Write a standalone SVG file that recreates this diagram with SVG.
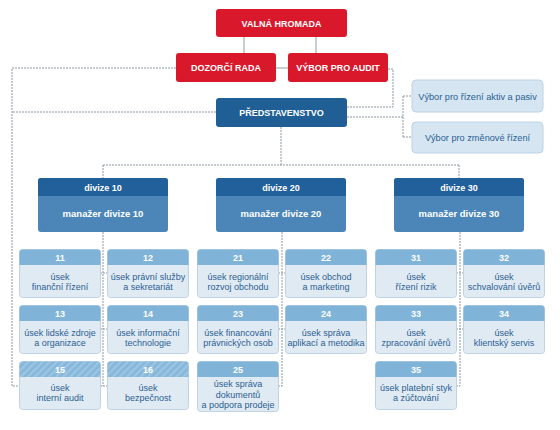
<svg xmlns="http://www.w3.org/2000/svg" width="560" height="430" viewBox="0 0 560 430">
<defs>
<pattern id="hatch" patternUnits="userSpaceOnUse" width="5" height="5" patternTransform="rotate(45)">
<rect width="5" height="5" fill="#86b7db"/>
<rect width="2.2" height="5" fill="#9cc5e2"/>
</pattern>
</defs>
<style>
.red{fill:#d9182b}
.blue{fill:#1f5f96}
.dh{fill:#21609a}
.db{fill:#4c86b8}
.sh{fill:#80b3d8}
.sb{fill:#e0eaf3;stroke:#c0d3e3;stroke-width:1}
.lb{fill:#d5e6f2;stroke:#bcd2e4;stroke-width:1}
.tw{font-family:"Liberation Sans",Arial,sans-serif;font-weight:bold;fill:#fff;text-anchor:middle}
.t{font-family:"Liberation Sans",Arial,sans-serif;fill:#2b5e92;text-anchor:middle;font-size:9px}
.tl{font-family:"Liberation Sans",Arial,sans-serif;fill:#2b5e92;text-anchor:middle;font-size:9.2px}
.c{fill:none;stroke:#8f9ba6;stroke-width:1}
.d{fill:none;stroke:#8a97a3;stroke-width:1;stroke-dasharray:2 1}
</style>
<rect width="560" height="430" fill="#fff"/>
<g id="connectors">
<path class="c" d="M244 37V53M316 37V53M276 68H288"/>
<path class="d" d="M176 68H12V386H19M216 112H12"/>
<path class="d" d="M388 69H393V107H347M347 117H403M403 96V137M403 96H412M403 137H412"/>
<path class="d" d="M281 127V165M103 165H459M103 165V178M459 165V178"/>
<path class="d" d="M103 232V386M100 273H107M100 329H107M100 386H107"/>
<path class="d" d="M282 232V386M278 273H285M278 329H285M278 386H282"/>
<path class="d" d="M460 232V386M456 273H463M456 329H463M456 386H460"/>
</g>
<g id="valna"><rect class="red" x="216" y="9" width="131" height="28" rx="3"/><text class="tw" x="281.5" y="26.5" font-size="9">VALNÁ HROMADA</text></g>
<g id="dozorci"><rect class="red" x="176" y="53" width="100" height="29" rx="3"/><text class="tw" x="226" y="71" font-size="9">DOZORČÍ RADA</text></g>
<g id="audit"><rect class="red" x="288" y="53" width="100" height="29" rx="3"/><text class="tw" x="338" y="71" font-size="9">VÝBOR PRO AUDIT</text></g>
<g id="predstavenstvo"><rect class="blue" x="216" y="98" width="131" height="29" rx="3"/><text class="tw" x="281.5" y="115.5" font-size="9">PŘEDSTAVENSTVO</text></g>
<g id="aktiv"><rect class="lb" x="412" y="80" width="131" height="32" rx="4"/><text class="tl" x="477.5" y="99.5">Výbor pro řízení aktiv a pasiv</text></g>
<g id="zmenove"><rect class="lb" x="412" y="122" width="131" height="31" rx="4"/><text class="tl" x="477.5" y="141">Výbor pro změnové řízení</text></g>
<g id="div10"><rect class="db" x="38" y="178" width="130" height="54" rx="3"/><path class="dh" d="M38 196V181a3 3 0 0 1 3-3H165a3 3 0 0 1 3 3V196Z"/><text class="tw" x="103" y="190.5" font-size="9">divize 10</text><text class="tw" x="103" y="217" font-size="9.5">manažer divize 10</text></g>
<g id="div20"><rect class="db" x="216" y="178" width="130" height="54" rx="3"/><path class="dh" d="M216 196V181a3 3 0 0 1 3-3H343a3 3 0 0 1 3 3V196Z"/><text class="tw" x="281" y="190.5" font-size="9">divize 20</text><text class="tw" x="281" y="217" font-size="9.5">manažer divize 20</text></g>
<g id="div30"><rect class="db" x="394" y="178" width="130" height="54" rx="3"/><path class="dh" d="M394 196V181a3 3 0 0 1 3-3H521a3 3 0 0 1 3 3V196Z"/><text class="tw" x="459" y="190.5" font-size="9">divize 30</text><text class="tw" x="459" y="217" font-size="9.5">manažer divize 30</text></g>
<g id="u11"><rect class="sb" x="19.5" y="249.5" width="81" height="48" rx="3"/><path class="sh" d="M19.5 265V252.5a3 3 0 0 1 3-3H97.5a3 3 0 0 1 3 3V265Z"/><text class="tw" x="60" y="260.5" font-size="9">11</text><text class="t" x="60" y="279.5">úsek</text><text class="t" x="60" y="289.5">finanční řízení</text></g>
<g id="u12"><rect class="sb" x="107.5" y="249.5" width="81" height="48" rx="3"/><path class="sh" d="M107.5 265V252.5a3 3 0 0 1 3-3H185.5a3 3 0 0 1 3 3V265Z"/><text class="tw" x="148" y="260.5" font-size="9">12</text><text class="t" x="148" y="279.5">úsek právní služby</text><text class="t" x="148" y="289.5">a sekretariát</text></g>
<g id="u13"><rect class="sb" x="19.5" y="305.5" width="81" height="48" rx="3"/><path class="sh" d="M19.5 321V308.5a3 3 0 0 1 3-3H97.5a3 3 0 0 1 3 3V321Z"/><text class="tw" x="60" y="316.5" font-size="9">13</text><text class="t" x="60" y="335.5">úsek lidské zdroje</text><text class="t" x="60" y="345.5">a organizace</text></g>
<g id="u14"><rect class="sb" x="107.5" y="305.5" width="81" height="48" rx="3"/><path class="sh" d="M107.5 321V308.5a3 3 0 0 1 3-3H185.5a3 3 0 0 1 3 3V321Z"/><text class="tw" x="148" y="316.5" font-size="9">14</text><text class="t" x="148" y="335.5">úsek informační</text><text class="t" x="148" y="345.5">technologie</text></g>
<g id="u15"><rect class="sb" x="19.5" y="361.5" width="81" height="48" rx="3"/><path fill="url(#hatch)" d="M19.5 377V364.5a3 3 0 0 1 3-3H97.5a3 3 0 0 1 3 3V377Z"/><text class="tw" x="60" y="372.5" font-size="9">15</text><text class="t" x="60" y="390.5">úsek</text><text class="t" x="60" y="400.5">interní audit</text></g>
<g id="u16"><rect class="sb" x="107.5" y="361.5" width="81" height="48" rx="3"/><path fill="url(#hatch)" d="M107.5 377V364.5a3 3 0 0 1 3-3H185.5a3 3 0 0 1 3 3V377Z"/><text class="tw" x="148" y="372.5" font-size="9">16</text><text class="t" x="148" y="390.5">úsek</text><text class="t" x="148" y="400.5">bezpečnost</text></g>
<g id="u21"><rect class="sb" x="197.5" y="249.5" width="81" height="48" rx="3"/><path class="sh" d="M197.5 265V252.5a3 3 0 0 1 3-3H275.5a3 3 0 0 1 3 3V265Z"/><text class="tw" x="238" y="260.5" font-size="9">21</text><text class="t" x="238" y="279.5">úsek regionální</text><text class="t" x="238" y="289.5">rozvoj obchodu</text></g>
<g id="u22"><rect class="sb" x="285.5" y="249.5" width="81" height="48" rx="3"/><path class="sh" d="M285.5 265V252.5a3 3 0 0 1 3-3H363.5a3 3 0 0 1 3 3V265Z"/><text class="tw" x="326" y="260.5" font-size="9">22</text><text class="t" x="326" y="279.5">úsek obchod</text><text class="t" x="326" y="289.5">a marketing</text></g>
<g id="u23"><rect class="sb" x="197.5" y="305.5" width="81" height="48" rx="3"/><path class="sh" d="M197.5 321V308.5a3 3 0 0 1 3-3H275.5a3 3 0 0 1 3 3V321Z"/><text class="tw" x="238" y="316.5" font-size="9">23</text><text class="t" x="238" y="335.5">úsek financování</text><text class="t" x="238" y="345.5">právnických osob</text></g>
<g id="u24"><rect class="sb" x="285.5" y="305.5" width="81" height="48" rx="3"/><path class="sh" d="M285.5 321V308.5a3 3 0 0 1 3-3H363.5a3 3 0 0 1 3 3V321Z"/><text class="tw" x="326" y="316.5" font-size="9">24</text><text class="t" x="326" y="335.5">úsek správa</text><text class="t" x="326" y="345.5">aplikací a metodika</text></g>
<g id="u25"><rect class="sb" x="197.5" y="361.5" width="81" height="50" rx="3"/><path class="sh" d="M197.5 377V364.5a3 3 0 0 1 3-3H275.5a3 3 0 0 1 3 3V377Z"/><text class="tw" x="238" y="372.5" font-size="9">25</text><text class="t" x="238" y="387">úsek správa</text><text class="t" x="238" y="397.5">dokumentů</text><text class="t" x="238" y="408">a podpora prodeje</text></g>
<g id="u31"><rect class="sb" x="375.5" y="249.5" width="81" height="48" rx="3"/><path class="sh" d="M375.5 265V252.5a3 3 0 0 1 3-3H453.5a3 3 0 0 1 3 3V265Z"/><text class="tw" x="416" y="260.5" font-size="9">31</text><text class="t" x="416" y="279.5">úsek</text><text class="t" x="416" y="289.5">řízení rizik</text></g>
<g id="u32"><rect class="sb" x="463.5" y="249.5" width="81" height="48" rx="3"/><path class="sh" d="M463.5 265V252.5a3 3 0 0 1 3-3H541.5a3 3 0 0 1 3 3V265Z"/><text class="tw" x="504" y="260.5" font-size="9">32</text><text class="t" x="504" y="279.5">úsek</text><text class="t" x="504" y="289.5">schvalování úvěrů</text></g>
<g id="u33"><rect class="sb" x="375.5" y="305.5" width="81" height="48" rx="3"/><path class="sh" d="M375.5 321V308.5a3 3 0 0 1 3-3H453.5a3 3 0 0 1 3 3V321Z"/><text class="tw" x="416" y="316.5" font-size="9">33</text><text class="t" x="416" y="335.5">úsek</text><text class="t" x="416" y="345.5">zpracování úvěrů</text></g>
<g id="u34"><rect class="sb" x="463.5" y="305.5" width="81" height="48" rx="3"/><path class="sh" d="M463.5 321V308.5a3 3 0 0 1 3-3H541.5a3 3 0 0 1 3 3V321Z"/><text class="tw" x="504" y="316.5" font-size="9">34</text><text class="t" x="504" y="335.5">úsek</text><text class="t" x="504" y="345.5">klientský servis</text></g>
<g id="u35"><rect class="sb" x="375.5" y="361.5" width="81" height="48" rx="3"/><path class="sh" d="M375.5 377V364.5a3 3 0 0 1 3-3H453.5a3 3 0 0 1 3 3V377Z"/><text class="tw" x="416" y="372.5" font-size="9">35</text><text class="t" x="416" y="390.5">úsek platební styk</text><text class="t" x="416" y="400.5">a zúčtování</text></g>
</svg>
